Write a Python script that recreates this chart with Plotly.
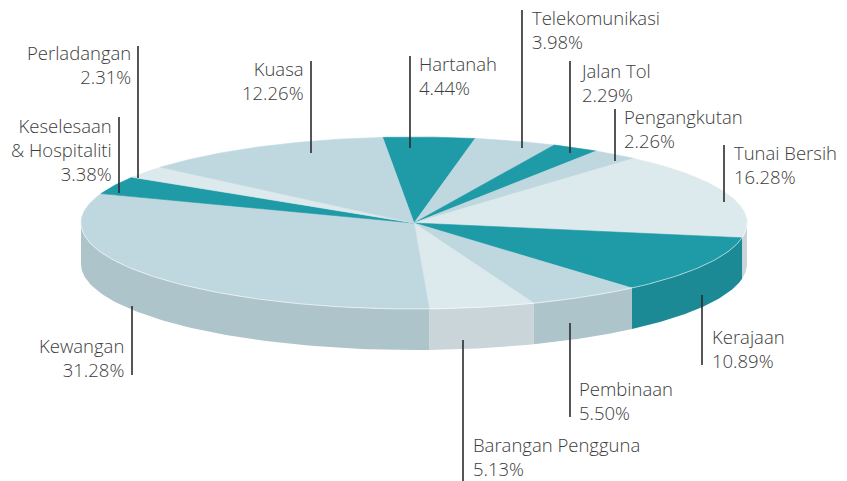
import numpy as np
import plotly.graph_objects as go

# ---- data ----
categories = ["Hartanah", "Telekomunikasi", "Jalan Tol", "Pengangkutan", "Tunai Bersih",
              "Kerajaan", "Pembinaan", "Barangan Pengguna", "Kewangan",
              "Keselesaan<br>& Hospitaliti", "Perladangan", "Kuasa"]
values = [4.44, 3.98, 2.29, 2.26, 16.28, 10.89, 5.50, 5.13, 31.28, 3.38, 2.31, 12.26]
tones = ["dark", "light", "dark", "light", "pale", "dark", "light", "pale", "light",
         "dark", "pale", "light"]

# ---- styles / layout ----
top_col = {"dark": "#1F9AA7", "light": "#BFD8DF", "pale": "#DCE9ED"}
side_col = {"dark": "#1C8A95", "light": "#ADC4CB", "pale": "#C9D5D8"}
CX, CY, RX, RY, DEPTH = 414, 223, 333, 86, 41
START = 95.4  # degrees, slices go clockwise
FONT = dict(family="Open Sans", size=18.5, color="#3c3c3c", weight=300)

# label placement: (text x, y of block centre (baseline-mid), xanchor, leader x, leader y0, leader y1)
label_pos = {
    "Hartanah": (418, 81.5, "left", 410, 56, 148),
    "Telekomunikasi": (531, 35.5, "left", 522, 10, 148),
    "Jalan Tol": (579, 88.5, "left", 570, 61, 153),
    "Pengangkutan": (623, 135, "left", 615, 109, 161),
    "Tunai Bersih": (733, 171, "left", 724, 145, 202),
    "Kerajaan": (711, 355, "left", 702, 295, 365),
    "Pembinaan": (578, 406.5, "left", 570, 323, 417),
    "Barangan Pengguna": (472, 463, "left", 463, 340, 481),
    "Kewangan": (125, 364, "right", 132, 306, 375),
    "Keselesaan<br>& Hospitaliti": (113, 155.5, "right", 119, 117, 193),
    "Perladangan": (132, 70.5, "right", 138, 46, 178),
    "Kuasa": (305, 87, "right", 311, 61, 153),
}

fig = go.Figure()


def pt(a_deg, dy=0.0):
    a = np.radians(a_deg)
    return CX + RX * np.cos(a), CY - RY * np.sin(a) + dy


# slice angles
angles = []
cum = 0.0
for v in values:
    a0 = START - 3.6 * cum
    a1 = a0 - 3.6 * v
    angles.append((a0, a1))
    cum += v

# side walls (front half: angles in [-180, 0])
for (a0, a1), tone in zip(angles, tones):
    hi = min(a0, 0.0)
    lo = max(a1, -180.0)
    if hi <= lo:
        continue
    arc = np.linspace(hi, lo, 80)
    xs_t, ys_t = pt(arc)
    xs_b, ys_b = pt(arc[::-1], DEPTH)
    xs = np.concatenate([xs_t, xs_b, xs_t[:1]])
    ys = np.concatenate([ys_t, ys_b, ys_t[:1]])
    fig.add_trace(go.Scatter(x=xs, y=ys, mode="lines", fill="toself",
                             fillcolor=side_col[tone], line=dict(width=0),
                             hoverinfo="skip", showlegend=False))

# top faces
for (a0, a1), tone, name in zip(angles, tones, categories):
    arc = np.linspace(a0, a1, max(8, int(abs(a0 - a1) * 2)))
    xs_a, ys_a = pt(arc)
    xs = np.concatenate([[CX], xs_a, [CX]])
    ys = np.concatenate([[CY], ys_a, [CY]])
    fig.add_trace(go.Scatter(x=xs, y=ys, mode="lines", fill="toself",
                             fillcolor=top_col[tone], line=dict(width=0.6, color=top_col[tone]),
                             hoverinfo="skip", showlegend=False,
                             name=name.replace("<br>", " ")))

# light rim on front edge of top face
rim = np.linspace(0, -180, 200)
rx_, ry_ = pt(rim)
fig.add_trace(go.Scatter(x=rx_, y=ry_, mode="lines", line=dict(width=1, color="rgba(255,255,255,0.55)"),
                         hoverinfo="skip", showlegend=False))

# labels and leader lines
for name, v in zip(categories, values):
    tx, ymid, xa, lx, ly0, ly1 = label_pos[name]
    fig.add_shape(type="line", x0=lx, x1=lx, y0=ly0, y1=ly1, xref="x", yref="y",
                  line=dict(color="#2b2b2b", width=1.6))
    fig.add_annotation(x=tx, y=ymid - 6.5, xref="x", yref="y", text=f"{name}<br>{v:.2f}%",
                       showarrow=False, xanchor=xa, yanchor="middle", align=xa,
                       borderpad=0, font=FONT)

fig.update_layout(
    width=847, height=481, margin=dict(l=0, r=0, t=0, b=0),
    paper_bgcolor="white", plot_bgcolor="white",
    xaxis=dict(range=[0, 847], visible=False, fixedrange=True),
    yaxis=dict(range=[481, 0], visible=False, fixedrange=True),
    showlegend=False,
)

fig.write_html("out.html", config={"displayModeBar": False},
               post_script="document.body.style.margin='0';")
